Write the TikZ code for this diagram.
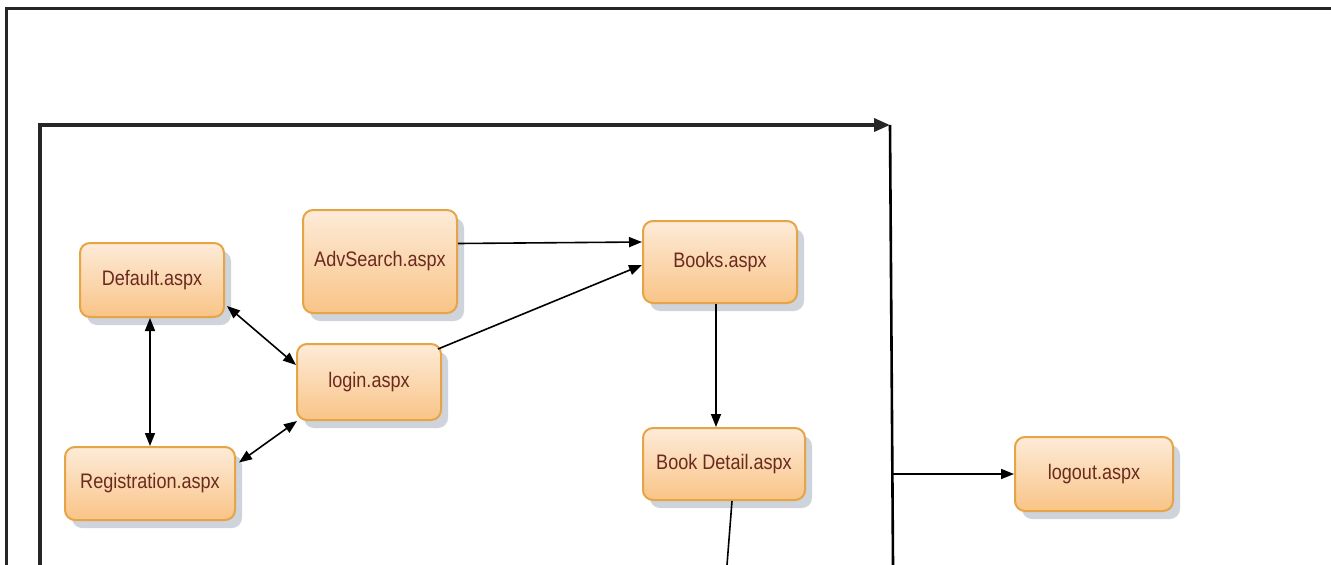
\documentclass[tikz,border=0pt]{standalone}
\usepackage{fontspec}
\newfontfamily\pagefont{Liberation Sans}[FakeStretch=0.86]
\usetikzlibrary{arrows.meta,shadows,calc}
\definecolor{boxtop}{HTML}{FDEBD8}
\definecolor{boxbot}{HTML}{F9C487}
\definecolor{boxline}{HTML}{E5A445}
\definecolor{boxtext}{HTML}{6B2A1E}
\definecolor{shade}{HTML}{BFC4CF}
\tikzset{
  page/.style={draw=boxline, line width=2pt, rounded corners=10pt,
    top color=boxtop, bottom color=boxbot, text=boxtext,
    font=\pagefont\fontsize{21}{23}\selectfont, inner sep=0pt,
    drop shadow={shadow xshift=7pt, shadow yshift=-8pt, fill=shade, opacity=0.75}},
  link/.style={line width=1.6pt, -{Triangle[length=13pt,width=10pt]}},
  both/.style={line width=1.6pt, {Triangle[length=13pt,width=10pt]}-{Triangle[length=13pt,width=10pt]}},
  frame/.style={line width=3.5pt, draw=black!85},
}
\begin{document}
\begin{tikzpicture}[x=1pt,y=-1pt]
\useasboundingbox (0,0) rectangle (1331,565);

% outer frame
\coordinate (o1) at (6,565);
\coordinate (o2) at (6,8);
\coordinate (o3) at (1331,8);
\draw[frame, line width=3pt] (o1) -- (o2) -- (o3);

% session frame
\coordinate (s1) at (40,565);
\coordinate (s2) at (40,125);
\coordinate (s3) at (890,125);
\coordinate (s4) at (893,565);
\coordinate (s5) at (892,474);
\draw[frame, -{Triangle[length=16pt,width=13pt]}] (s1) -- (s2) -- (s3);
\draw[line width=2.6pt] (s3) -- (s4);

% pages
\node[page, minimum width=144pt, minimum height=74pt]  (def)    at (152,280)   {Default.aspx};
\node[page, minimum width=154pt, minimum height=103pt] (adv)    at (380,261.5) {AdvSearch.aspx};
\node[page, minimum width=154pt, minimum height=82pt]  (books)  at (720,262)   {Books.aspx};
\node[page, minimum width=144pt, minimum height=76pt]  (login)  at (369,382)   {login.aspx};
\node[page, minimum width=170pt, minimum height=73pt]  (reg)    at (150,483.5) {Registration.aspx};
\node[page, minimum width=162pt, minimum height=72pt]  (detail) at (724,464)   {Book Detail.aspx};
\node[page, minimum width=158pt, minimum height=74pt]  (logout) at (1094,474)  {logout.aspx};

% navigation
\draw[both] ([xshift=-2pt]def.south) -- ([xshift=-2pt]def.south |- reg.north);
\draw[both] ([xshift=2pt,yshift=12pt]def.south east) -- ([yshift=17pt]login.west);
\draw[both] ([xshift=3pt,yshift=21pt]reg.east) -- ([xshift=1pt]login.south west);
\draw[link] ([yshift=18pt]adv.east) -- ([yshift=20pt]books.west);
\draw[link] ([xshift=-4pt,yshift=-6pt]login.north east) -- ([yshift=-3pt]books.west);
\draw[link] ([xshift=-4pt]books.south) -- ([xshift=-4pt]books.south |- detail.north);
\coordinate (d1) at (727,565);
\draw[line width=1.6pt] ([xshift=8pt]detail.south) -- (d1);
\draw[link] (s5) -- (logout.west);
\end{tikzpicture}
\end{document}
